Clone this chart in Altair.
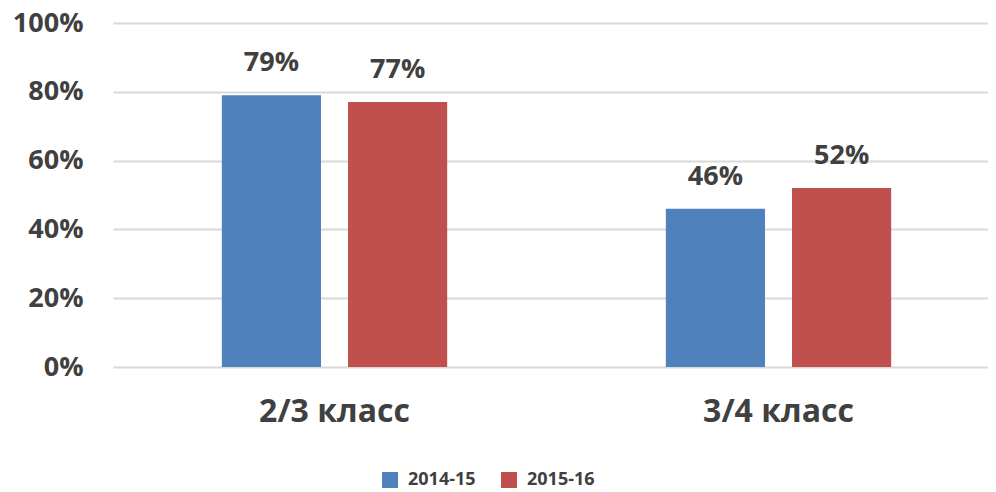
import altair as alt
import pandas as pd

categories = ["2/3 класс", "3/4 класс"]
years = ["2014-15", "2015-16"]
values_2014 = [0.79, 0.46]
values_2015 = [0.77, 0.52]

rows = []
for i, c in enumerate(categories):
    rows.append({"cat": c, "year": years[0], "val": values_2014[i]})
    rows.append({"cat": c, "year": years[1], "val": values_2015[i]})
df = pd.DataFrame(rows)

FONT = "Open Sans"
TXT = "#404040"

x = alt.X("cat:N", sort=categories, title=None,
          scale=alt.Scale(paddingInner=0.4, paddingOuter=0.18536, align=0.5365),
          axis=alt.Axis(labelAngle=0, labelFontSize=32, labelFont=FONT, labelFontWeight="bold",
                        labelColor=TXT, ticks=False, domain=False, labelPadding=29))
xo = alt.XOffset("year:N", sort=years, scale=alt.Scale(paddingInner=0.2143, paddingOuter=0.1627))
y = alt.Y("val:Q", title=None,
          scale=alt.Scale(domain=[0, 1], nice=False),
          axis=alt.Axis(values=[0, 0.2, 0.4, 0.6, 0.8, 1.0], format=".0%", labelFontSize=27,
                        labelFont=FONT, labelFontWeight="bold", labelColor=TXT,
                        ticks=False, domain=False, labelPadding=30,
                        gridColor="#d9d9d9", gridWidth=2))
color = alt.Color("year:N", sort=years,
                  scale=alt.Scale(domain=years, range=["#4F81BD", "#C0504D"]),
                  legend=alt.Legend(title=None, orient="none", legendX=268, legendY=448,
                                    direction="horizontal", symbolType="square", symbolSize=256,
                                    symbolStrokeWidth=0, labelFontSize=18, labelFont=FONT,
                                    labelFontWeight="bold", labelColor=TXT, columnPadding=24,
                                    labelOffset=9))

bars = alt.Chart(df).mark_bar().encode(x=x, xOffset=xo, y=y, color=color)
labels = alt.Chart(df).mark_text(baseline="bottom", dy=-18, fontSize=27, font=FONT,
                                 fontWeight="bold", color=TXT).encode(
    x=x, xOffset=xo, y=y, text=alt.Text("val:Q", format=".0%"))

chart = (bars + labels).properties(
    width=875, height=344,
    padding={"left": 105, "top": 15, "right": 0, "bottom": 124},
    autosize=alt.AutoSizeParams(type="none"),
).configure_view(stroke=None)

chart.save("out.html", embed_options={"renderer": "svg", "actions": False})
